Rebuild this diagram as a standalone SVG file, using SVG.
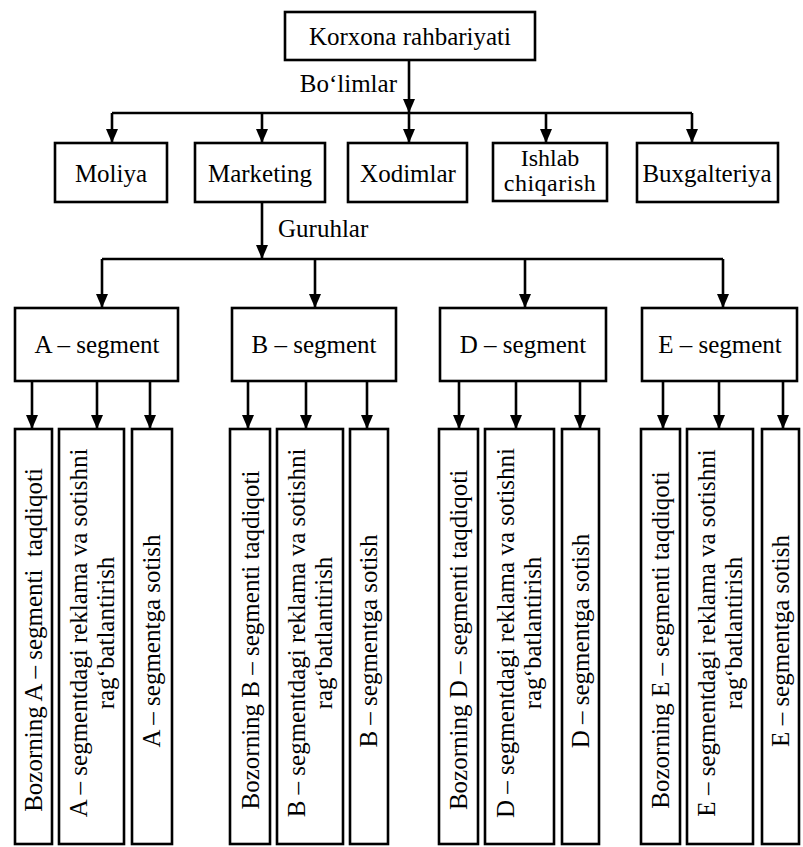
<svg xmlns="http://www.w3.org/2000/svg" width="803" height="847" viewBox="0 0 803 847">
<style>
.box{fill:#fff;stroke:#000;stroke-width:2.6}
.ln{fill:none;stroke:#000;stroke-width:2.6}
.ar{fill:none;stroke:#000;stroke-width:2.6;marker-end:url(#ah)}
text{font-family:"Liberation Serif","Times New Roman",serif;font-size:25px;fill:#000}
.c{text-anchor:middle}
.sm{font-size:24px}
</style>
<defs>
<marker id="ah" viewBox="0 0 14 12" refX="14" refY="6" markerWidth="14" markerHeight="12" markerUnits="userSpaceOnUse" orient="auto">
<path d="M0,0 L14,6 L0,12 z" fill="#000"/>
</marker>
</defs>
<rect width="803" height="847" fill="#fff"/>

<g id="connectors">
<line class="ar" x1="409" y1="60" x2="409" y2="113"/>
<line class="ln" x1="112" y1="113" x2="692" y2="113"/>
<line class="ar" x1="112" y1="113" x2="112" y2="143"/>
<line class="ar" x1="262" y1="113" x2="262" y2="143"/>
<line class="ar" x1="409" y1="113" x2="409" y2="143"/>
<line class="ar" x1="546" y1="113" x2="546" y2="143"/>
<line class="ar" x1="692" y1="113" x2="692" y2="143"/>
<line class="ar" x1="262" y1="202" x2="262" y2="259"/>
<line class="ln" x1="102" y1="259" x2="723" y2="259"/>
<line class="ar" x1="102" y1="259" x2="102" y2="308"/>
<line class="ar" x1="315" y1="259" x2="315" y2="308"/>
<line class="ar" x1="525" y1="259" x2="525" y2="308"/>
<line class="ar" x1="723" y1="259" x2="723" y2="308"/>
<line class="ar" x1="32" y1="381" x2="32" y2="429"/>
<line class="ar" x1="97" y1="381" x2="97" y2="429"/>
<line class="ar" x1="150" y1="381" x2="150" y2="429"/>
<line class="ar" x1="248" y1="381" x2="248" y2="429"/>
<line class="ar" x1="306" y1="381" x2="306" y2="429"/>
<line class="ar" x1="367" y1="381" x2="367" y2="429"/>
<line class="ar" x1="459" y1="381" x2="459" y2="429"/>
<line class="ar" x1="516" y1="381" x2="516" y2="429"/>
<line class="ar" x1="580" y1="381" x2="580" y2="429"/>
<line class="ar" x1="663" y1="381" x2="663" y2="429"/>
<line class="ar" x1="719" y1="381" x2="719" y2="429"/>
<line class="ar" x1="783" y1="381" x2="783" y2="429"/>
<text x="397" y="92" text-anchor="end">Bo‘limlar</text>
<text x="278" y="237">Guruhlar</text>
</g>

<g id="korxona">
<rect class="box" x="285" y="12" width="250" height="48"/>
<text class="c" x="410" y="45">Korxona rahbariyati</text>
</g>

<g id="moliya">
<rect class="box" x="55" y="143" width="112" height="59"/>
<text class="c" x="111" y="182">Moliya</text>
</g>
<g id="marketing">
<rect class="box" x="195" y="143" width="130" height="59"/>
<text class="c" x="260" y="182">Marketing</text>
</g>
<g id="xodimlar">
<rect class="box" x="348" y="143" width="119" height="59"/>
<text class="c" x="408" y="182">Xodimlar</text>
</g>
<g id="ishlab">
<rect class="box" x="493" y="143" width="114" height="58"/>
<text class="c sm" x="550" y="166">Ishlab</text>
<text class="c sm" x="550" y="191" letter-spacing="0.5">chiqarish</text>
</g>
<g id="buxgalteriya">
<rect class="box" x="637" y="143" width="141" height="59"/>
<text class="c" x="707" y="182">Buxgalteriya</text>
</g>

<g id="segA">
<rect class="box" x="15" y="308" width="163" height="73"/>
<text class="c" x="97" y="353">A – segment</text>
</g>
<g id="segB">
<rect class="box" x="232" y="308" width="164" height="73"/>
<text class="c" x="314" y="353">B – segment</text>
</g>
<g id="segD">
<rect class="box" x="440" y="308" width="166" height="73"/>
<text class="c" x="523" y="353">D – segment</text>
</g>
<g id="segE">
<rect class="box" x="642" y="308" width="155" height="73"/>
<text class="c" x="720" y="353">E – segment</text>
</g>

<g id="a1">
<rect class="box" x="15" y="429" width="37" height="415"/>
<text class="c" xml:space="preserve" transform="translate(42,640) rotate(-90)">Bozorning A – segmenti  taqdiqoti</text>
</g>
<g id="a2">
<rect class="box" x="59" y="429" width="65" height="415"/>
<text class="c" transform="translate(87,633) rotate(-90)">A – segmentdagi reklama va sotishni</text>
<text class="c" transform="translate(114,633) rotate(-90)">rag‘batlantirish</text>
</g>
<g id="a3">
<rect class="box" x="132" y="429" width="40" height="415"/>
<text class="c" transform="translate(160,641) rotate(-90)">A – segmentga sotish</text>
</g>

<g id="b1">
<rect class="box" x="230" y="429" width="40" height="415"/>
<text class="c" transform="translate(259,640) rotate(-90)">Bozorning B – segmenti taqdiqoti</text>
</g>
<g id="b2">
<rect class="box" x="277" y="429" width="66" height="415"/>
<text class="c" transform="translate(305,633) rotate(-90)">B – segmentdagi reklama va sotishni</text>
<text class="c" transform="translate(332,633) rotate(-90)">rag‘batlantirish</text>
</g>
<g id="b3">
<rect class="box" x="350" y="429" width="38" height="415"/>
<text class="c" transform="translate(377,641) rotate(-90)">B – segmentga sotish</text>
</g>

<g id="d1">
<rect class="box" x="439" y="429" width="39" height="415"/>
<text class="c" transform="translate(467,640) rotate(-90)">Bozorning D – segmenti taqdiqoti</text>
</g>
<g id="d2">
<rect class="box" x="485" y="429" width="69" height="415"/>
<text class="c" transform="translate(514,633) rotate(-90)">D – segmentdagi reklama va sotishni</text>
<text class="c" transform="translate(541,633) rotate(-90)">rag‘batlantirish</text>
</g>
<g id="d3">
<rect class="box" x="562" y="429" width="37" height="415"/>
<text class="c" transform="translate(589,641) rotate(-90)">D – segmentga sotish</text>
</g>

<g id="e1">
<rect class="box" x="641" y="429" width="39" height="415"/>
<text class="c" transform="translate(669,640) rotate(-90)">Bozorning E – segmenti taqdiqoti</text>
</g>
<g id="e2">
<rect class="box" x="687" y="429" width="66" height="415"/>
<text class="c" transform="translate(715,633) rotate(-90)">E – segmentdagi reklama va sotishni</text>
<text class="c" transform="translate(742,633) rotate(-90)">rag‘batlantirish</text>
</g>
<g id="e3">
<rect class="box" x="762" y="429" width="37" height="415"/>
<text class="c" transform="translate(789,641) rotate(-90)">E – segmentga sotish</text>
</g>
</svg>
